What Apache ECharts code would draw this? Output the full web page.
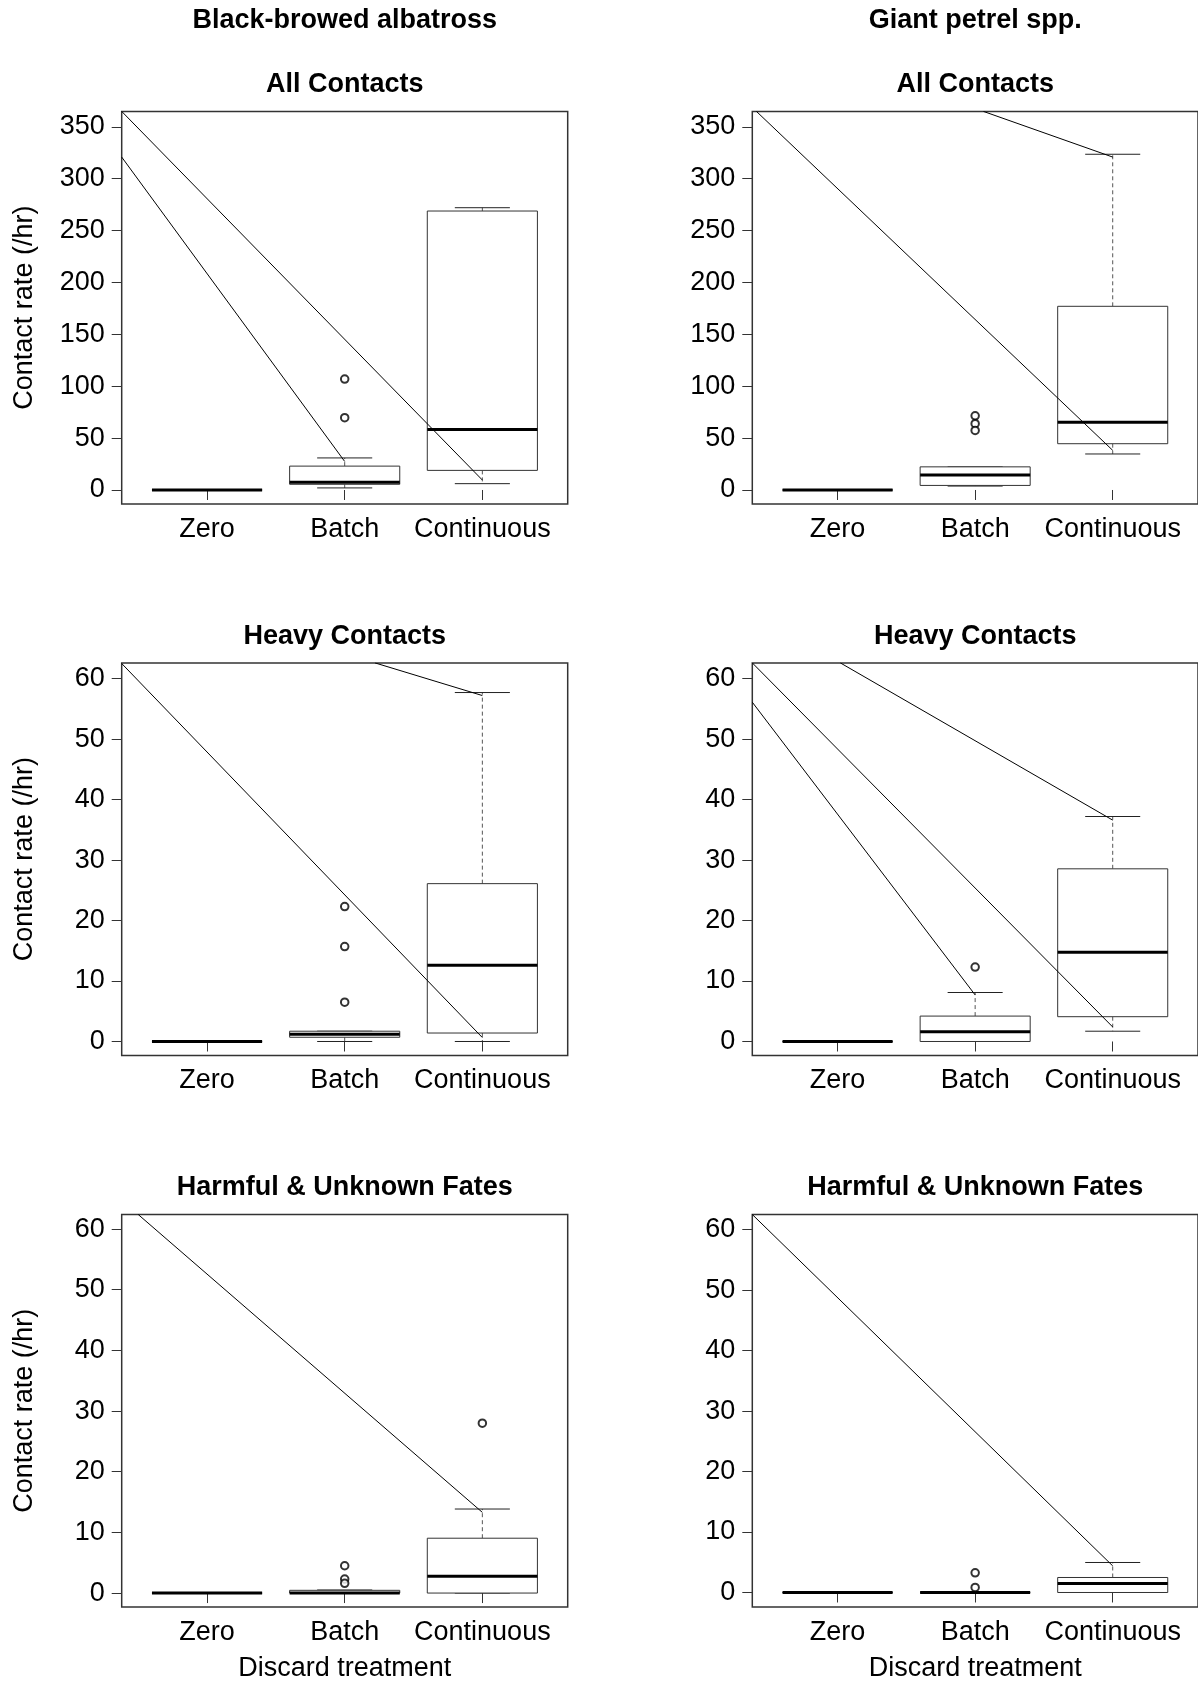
<!DOCTYPE html>
<html>
<head>
<meta charset="utf-8">
<script src="https://cdn.jsdelivr.net/npm/echarts@6/dist/echarts.min.js"></script>
<style>
html,body{margin:0;padding:0;background:#fff}
#chart{width:1198px;height:1681px}
</style>
</head>
<body>
<div id="chart"></div>
<script>
// treatments along x
var categories = ['Zero', 'Batch', 'Continuous'];
var speciesNames = ['Black-browed albatross', 'Giant petrel spp.'];
var panelTitles = ['All Contacts', 'Heavy Contacts', 'Harmful & Unknown Fates'];
var ticksAll = [0, 50, 100, 150, 200, 250, 300, 350];
var ticksSmall = [0, 10, 20, 30, 40, 50, 60];

// box stats per treatment: [lower whisker, Q1, median, Q3, upper whisker]
var bbaAllBox = [[0, 0, 0, 0, 0], [2.0, 5.5, 7.5, 23.0, 30.9], [6.1, 18.9, 58.4, 268.8, 272.0]];
var bbaAllOut = [[2, 106.9], [2, 69.7]];
var bbaAllLines = [[[0.38, 364.8], [3, 9.6]], [[0.38, 320.8], [2, 27.5]]];

var gpAllBox = [[0, 0, 0, 0, 0], [3.8, 4.4, 14.4, 22.3, 22.3], [34.7, 44.6, 65.3, 177.0, 323.5]];
var gpAllOut = [[2, 71.5], [2, 63.9], [2, 57.4]];
var gpAllLines = [[[0.41, 364.8], [3, 38.2]], [[2.06, 364.8], [3, 320.8]]];

var bbaHeavyBox = [[0, 0, 0, 0, 0], [0, 0.7, 1.2, 1.7, 1.7], [0, 1.4, 12.6, 26.1, 57.7]];
var bbaHeavyOut = [[2, 22.3], [2, 15.7], [2, 6.5]];
var bbaHeavyLines = [[[0.38, 62.5], [3, 0.65]], [[2.22, 62.6], [3, 57.2]]];

var gpHeavyBox = [[0, 0, 0, 0, 0], [0, 0, 1.6, 4.2, 8.1], [1.7, 4.1, 14.75, 28.55, 37.2]];
var gpHeavyOut = [[2, 12.3]];
var gpHeavyLines = [[[0.38, 62.6], [3, 2.4]], [[0.38, 56.1], [2, 7.7]], [[1.02, 62.6], [3, 36.6]]];

var bbaHarmBox = [[0, 0, 0, 0, 0], [0, 0, 0, 0.45, 0.5], [0, 0, 2.78, 9.04, 13.85]];
var bbaHarmOut = [[2, 4.5], [2, 2.3], [2, 1.6], [3, 28.0]];
var bbaHarmLines = [[[0.50, 62.4], [3, 13.3]]];

var gpHarmBox = [[0, 0, 0, 0, 0], [0, 0, 0, 0, 0], [0, 0, 1.48, 2.48, 4.96]];
var gpHarmOut = [[2, 3.25], [2, 0.83]];
var gpHarmLines = [[[0.38, 62.5], [3, 4.4]]];

var FONT = '"Liberation Sans", Arial, sans-serif';

// row x column
var panels = [
  {box: bbaAllBox, out: bbaAllOut, lines: bbaAllLines, row: 0, col: 0, ymin: -13.4, ymax: 364.8, ticks: ticksAll},
  {box: gpAllBox, out: gpAllOut, lines: gpAllLines, row: 0, col: 1, ymin: -13.4, ymax: 364.8, ticks: ticksAll},
  {box: bbaHeavyBox, out: bbaHeavyOut, lines: bbaHeavyLines, row: 1, col: 0, ymin: -2.3, ymax: 62.6, ticks: ticksSmall},
  {box: gpHeavyBox, out: gpHeavyOut, lines: gpHeavyLines, row: 1, col: 1, ymin: -2.3, ymax: 62.6, ticks: ticksSmall},
  {box: bbaHarmBox, out: bbaHarmOut, lines: bbaHarmLines, row: 2, col: 0, ymin: -2.3, ymax: 62.4, ticks: ticksSmall},
  {box: gpHarmBox, out: gpHarmOut, lines: gpHarmLines, row: 2, col: 1, ymin: -2.4, ymax: 62.5, ticks: ticksSmall}
];

var colLeft = [121.7, 752.3], plotW = 446;
var rowTop = [111.4, 662.9, 1214.5], plotH = 392.5;

function renderBox(params, api) {
  var x = api.value(0);
  var lo = api.coord([x, api.value(1)]), q1 = api.coord([x, api.value(2)]);
  var md = api.coord([x, api.value(3)]), q3 = api.coord([x, api.value(4)]);
  var hi = api.coord([x, api.value(5)]);
  var bw = api.size([0.8, 0])[0] / 2, sw = api.size([0.4, 0])[0] / 2;
  var cx = md[0];
  var dash = {stroke: '#555', lineWidth: 1, lineDash: [4, 3]};
  var solid = {stroke: '#222', lineWidth: 1};
  return {type: 'group', children: [
    {type: 'line', shape: {x1: cx, y1: q3[1], x2: cx, y2: hi[1]}, style: dash},
    {type: 'line', shape: {x1: cx, y1: q1[1], x2: cx, y2: lo[1]}, style: dash},
    {type: 'line', shape: {x1: cx - sw, y1: hi[1], x2: cx + sw, y2: hi[1]}, style: solid},
    {type: 'line', shape: {x1: cx - sw, y1: lo[1], x2: cx + sw, y2: lo[1]}, style: solid},
    {type: 'rect', shape: {x: cx - bw, y: q3[1], width: bw * 2, height: q1[1] - q3[1]},
      style: {fill: '#fff', stroke: '#333', lineWidth: 1}},
    {type: 'line', shape: {x1: cx - bw, y1: md[1], x2: cx + bw, y2: md[1]},
      style: {stroke: '#000', lineWidth: 3}}
  ]};
}

var grids = [], xAxes = [], yAxes = [], series = [], graphics = [];

panels.forEach(function (p, i) {
  var left = colLeft[p.col], top = rowTop[p.row];
  grids.push({left: left, top: top, width: plotW, height: plotH, show: true,
    borderColor: '#333', borderWidth: 1.5, backgroundColor: 'transparent'});
  xAxes.push({type: 'value', gridIndex: i, min: 0.38, max: 3.62,
    axisLine: {show: false}, splitLine: {show: false},
    axisTick: {customValues: [1, 2, 3], length: 10, lineStyle: {color: '#333'}},
    axisLabel: {customValues: [1, 2, 3], margin: 12, fontSize: 27, color: '#000', fontFamily: FONT,
      formatter: function (v) { return categories[Math.round(v) - 1]; }}});
  yAxes.push({type: 'value', gridIndex: i, min: p.ymin, max: p.ymax,
    axisLine: {show: false}, splitLine: {show: false},
    axisTick: {customValues: p.ticks, length: 10, lineStyle: {color: '#333'}},
    axisLabel: {customValues: p.ticks, margin: 17, fontSize: 27, color: '#000', fontFamily: FONT}});

  series.push({type: 'custom', xAxisIndex: i, yAxisIndex: i, renderItem: renderBox, z: 2,
    data: p.box.map(function (s, k) { return [k + 1].concat(s); })});
  series.push({type: 'scatter', xAxisIndex: i, yAxisIndex: i, symbol: 'emptyCircle', symbolSize: 7.5, z: 3,
    itemStyle: {color: '#000', borderColor: '#000', borderWidth: 1}, data: p.out});
  p.lines.forEach(function (seg) {
    series.push({type: 'line', xAxisIndex: i, yAxisIndex: i, data: seg, symbol: 'none', clip: true, z: 4,
      lineStyle: {color: '#000', width: 1}, silent: true});
  });

  // panel title
  graphics.push({type: 'text', x: left + plotW / 2, y: top - 26.5,
    style: {text: panelTitles[p.row], font: 'bold 27px ' + FONT, fill: '#000',
      align: 'center', verticalAlign: 'middle', textAlign: 'center', textVerticalAlign: 'middle'}});
  if (p.col === 0) {
    graphics.push({type: 'text', x: 25, y: top + plotH / 2, rotation: Math.PI / 2,
      style: {text: 'Contact rate (/hr)', font: '27px ' + FONT, fill: '#000',
        align: 'center', verticalAlign: 'middle', textAlign: 'center', textVerticalAlign: 'middle'}});
  }
  if (p.row === 2) {
    graphics.push({type: 'text', x: left + plotW / 2, y: 1669,
      style: {text: 'Discard treatment', font: '27px ' + FONT, fill: '#000',
        align: 'center', verticalAlign: 'middle', textAlign: 'center', textVerticalAlign: 'middle'}});
  }
});

speciesNames.forEach(function (name, c) {
  graphics.push({type: 'text', x: colLeft[c] + plotW / 2, y: 21,
    style: {text: name, font: 'bold 27px ' + FONT, fill: '#000',
      align: 'center', verticalAlign: 'middle', textAlign: 'center', textVerticalAlign: 'middle'}});
});

var chart = echarts.init(document.getElementById('chart'));
chart.setOption({
  animation: false,
  backgroundColor: '#fff',
  grid: grids,
  xAxis: xAxes,
  yAxis: yAxes,
  series: series,
  graphic: graphics
});
</script>
</body>
</html>
